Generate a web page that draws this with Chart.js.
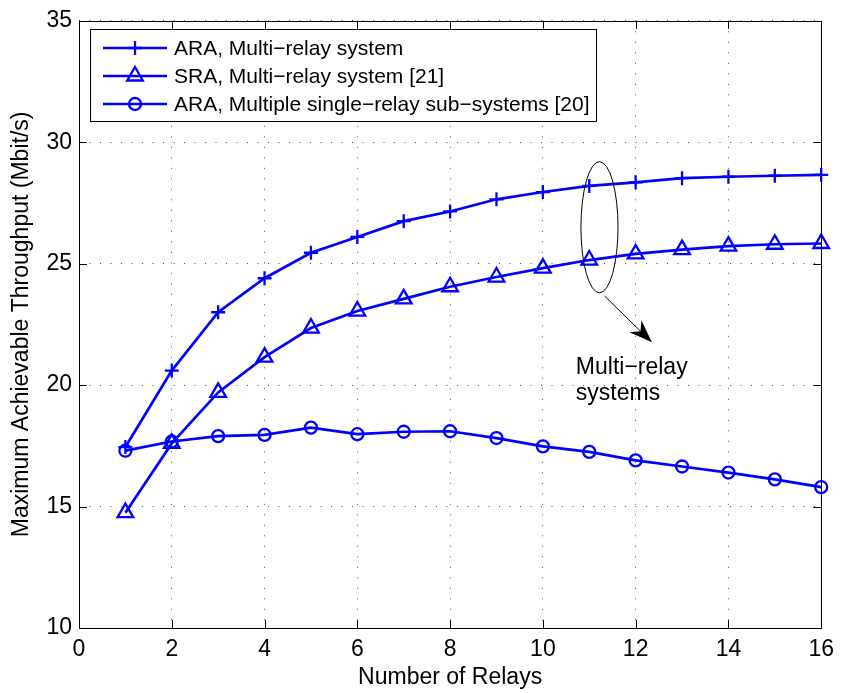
<!DOCTYPE html>
<html>
<head>
<meta charset="utf-8">
<script src="https://cdn.jsdelivr.net/npm/chart.js@4.4.0/dist/chart.umd.min.js"></script>
<style>
  body { margin: 0; background: #fff; }
</style>
</head>
<body>
<canvas id="vazao" width="842" height="693"></canvas>
<script>
// numero de relays no eixo x
const relays = [1, 2, 3, 4, 5, 6, 7, 8, 9, 10, 11, 12, 13, 14, 15, 16];

// vazao maxima (Mbit/s) de cada esquema
const araMulti = [17.45, 20.6, 23.0, 24.4, 25.45, 26.1, 26.75, 27.15, 27.65, 27.95, 28.2, 28.35, 28.52, 28.58, 28.62, 28.66];
const sraMulti = [14.75, 17.6, 19.7, 21.15, 22.35, 23.05, 23.55, 24.05, 24.45, 24.82, 25.15, 25.4, 25.58, 25.72, 25.8, 25.83];
const araSingle = [17.3, 17.68, 17.9, 17.95, 18.25, 17.98, 18.08, 18.1, 17.82, 17.48, 17.25, 16.9, 16.65, 16.4, 16.12, 15.8];

const xTicks = [0, 2, 4, 6, 8, 10, 12, 14, 16];
const yTicks = [10, 15, 20, 25, 30, 35];

const fonte = '"Liberation Sans", Arial, Helvetica, sans-serif';
const azul = 'rgb(0,0,255)';

// elipse + seta + texto da anotacao (em coordenadas dos eixos)
const nota = {
  elipse: { x: 11.22, y: 26.5, rx: 0.4, ry: 2.7 },
  seta: { x0: 11.33, y0: 23.67, x1: 12.35, y1: 21.76 },
  texto: { x: 10.71, y: 20.46, y2: 19.38, linhas: ['Multi\u2212relay', 'systems'] }
};

function pontos(vals) {
  return relays.map((r, i) => ({ x: r, y: vals[i] }));
}

function serie(label, vals, estilo, raio) {
  return {
    label: label,
    data: pontos(vals),
    borderColor: azul,
    backgroundColor: 'rgba(0,0,0,0)',
    borderWidth: 2.7,
    pointStyle: estilo,
    pointRadius: raio,
    pointBorderWidth: 2.3,
    pointBorderColor: azul,
    pointBackgroundColor: 'rgba(0,0,0,0)',
    tension: 0,
    fill: false,
    clip: false
  };
}

// moldura com ticks para dentro nos 4 lados
const moldura = {
  id: 'moldura',
  beforeDatasetsDraw(chart) {
    const { ctx, chartArea: a, scales } = chart;
    ctx.save();
    ctx.strokeStyle = '#000';
    ctx.lineWidth = 1;
    ctx.beginPath();
    xTicks.forEach(v => {
      const px = Math.round(scales.x.getPixelForValue(v)) + 0.5;
      ctx.moveTo(px, a.bottom); ctx.lineTo(px, a.bottom - 8);
      ctx.moveTo(px, a.top); ctx.lineTo(px, a.top + 8);
    });
    yTicks.forEach(v => {
      const py = Math.round(scales.y.getPixelForValue(v)) + 0.5;
      ctx.moveTo(a.left, py); ctx.lineTo(a.left + 8, py);
      ctx.moveTo(a.right, py); ctx.lineTo(a.right - 8, py);
    });
    ctx.stroke();
    ctx.strokeRect(Math.round(a.left) + 0.5, Math.round(a.top) + 0.5,
      Math.round(a.right - a.left), Math.round(a.bottom - a.top));
    ctx.restore();
  }
};

function marcador(ctx, estilo, x, y, r) {
  ctx.beginPath();
  if (estilo === 'cross') {
    ctx.moveTo(x - r, y); ctx.lineTo(x + r, y);
    ctx.moveTo(x, y - r); ctx.lineTo(x, y + r);
  } else if (estilo === 'triangle') {
    ctx.moveTo(x, y - r);
    ctx.lineTo(x + r * Math.cos(Math.PI / 6), y + r / 2);
    ctx.lineTo(x - r * Math.cos(Math.PI / 6), y + r / 2);
    ctx.closePath();
  } else {
    ctx.arc(x, y, r, 0, Math.PI * 2);
  }
  ctx.stroke();
}

// legenda no canto superior esquerdo + anotacao
const extras = {
  id: 'extras',
  afterDatasetsDraw(chart) {
    const { ctx, scales } = chart;
    const sx = scales.x, sy = scales.y;
    ctx.save();

    // legenda
    const bx = 90.5, by = 29.5, bw = 506, bh = 92;
    ctx.fillStyle = '#fff';
    ctx.fillRect(bx, by, bw, bh);
    ctx.strokeStyle = '#000';
    ctx.lineWidth = 1;
    ctx.strokeRect(bx, by, bw, bh);
    ctx.font = '21px ' + fonte;
    ctx.textBaseline = 'middle';
    ctx.textAlign = 'left';
    chart.data.datasets.forEach((ds, i) => {
      const ly = 48 + i * 28;
      ctx.strokeStyle = ds.borderColor;
      ctx.lineWidth = ds.borderWidth;
      ctx.beginPath();
      ctx.moveTo(103, ly); ctx.lineTo(167, ly);
      ctx.stroke();
      ctx.lineWidth = ds.pointBorderWidth;
      marcador(ctx, ds.pointStyle, 135, ly, ds.pointRadius);
      ctx.fillStyle = '#000';
      ctx.fillText(ds.label, 174, ly + 1);
    });

    // elipse
    const e = nota.elipse;
    const ex = sx.getPixelForValue(e.x), ey = sy.getPixelForValue(e.y);
    const erx = Math.abs(sx.getPixelForValue(e.x + e.rx) - ex);
    const ery = Math.abs(sy.getPixelForValue(e.y + e.ry) - ey);
    ctx.strokeStyle = '#000';
    ctx.lineWidth = 1;
    ctx.beginPath();
    ctx.ellipse(ex, ey, erx, ery, 0, 0, Math.PI * 2);
    ctx.stroke();

    // seta
    const s = nota.seta;
    const x0 = sx.getPixelForValue(s.x0), y0 = sy.getPixelForValue(s.y0);
    const x1 = sx.getPixelForValue(s.x1), y1 = sy.getPixelForValue(s.y1);
    const len = Math.hypot(x1 - x0, y1 - y0);
    const ux = (x1 - x0) / len, uy = (y1 - y0) / len;
    const nx = -uy, ny = ux;
    const hl = 23, hw = 8.5, nb = 16;
    ctx.beginPath();
    ctx.moveTo(x0, y0);
    ctx.lineTo(x1 - ux * nb, y1 - uy * nb);
    ctx.stroke();
    ctx.fillStyle = '#000';
    ctx.beginPath();
    ctx.moveTo(x1, y1);
    ctx.lineTo(x1 - ux * hl + nx * hw, y1 - uy * hl + ny * hw);
    ctx.lineTo(x1 - ux * nb, y1 - uy * nb);
    ctx.lineTo(x1 - ux * hl - nx * hw, y1 - uy * hl - ny * hw);
    ctx.closePath();
    ctx.fill();

    // texto
    const t = nota.texto;
    ctx.font = '23px ' + fonte;
    ctx.textBaseline = 'alphabetic';
    ctx.fillText(t.linhas[0], sx.getPixelForValue(t.x), sy.getPixelForValue(t.y));
    ctx.fillText(t.linhas[1], sx.getPixelForValue(t.x), sy.getPixelForValue(t.y2));

    ctx.restore();
  }
};

const eixoFonte = { family: fonte, size: 23 };

new Chart(document.getElementById('vazao'), {
  type: 'line',
  data: {
    datasets: [
      serie('ARA, Multi\u2212relay system', araMulti, 'cross', 7),
      serie('SRA, Multi\u2212relay system [21]', sraMulti, 'triangle', 9),
      serie('ARA, Multiple single\u2212relay sub\u2212systems [20]', araSingle, 'circle', 6)
    ]
  },
  options: {
    responsive: false,
    animation: false,
    devicePixelRatio: 1,
    layout: { padding: { top: 16, right: 17, left: 0, bottom: 0 } },
    plugins: {
      legend: { display: false },
      tooltip: { enabled: false }
    },
    scales: {
      x: {
        type: 'linear',
        min: 0,
        max: 16,
        afterBuildTicks: s => { s.ticks = xTicks.map(v => ({ value: v })); },
        afterFit: s => { s.height = 65; },
        grid: { color: '#555', lineWidth: 1, drawTicks: false },
        border: { display: false, dash: [1, 9.5] },
        ticks: { color: '#000', font: eixoFonte, padding: 8, maxRotation: 0 },
        title: {
          display: true,
          text: 'Number of Relays',
          color: '#000',
          font: eixoFonte,
          padding: { top: 0, bottom: 2 }
        }
      },
      y: {
        min: 10,
        max: 35,
        afterBuildTicks: s => { s.ticks = yTicks.map(v => ({ value: v })); },
        afterFit: s => { s.width = 79; },
        grid: { color: '#555', lineWidth: 1, drawTicks: false },
        border: { display: false, dash: [1, 9.5] },
        ticks: { color: '#000', font: eixoFonte, padding: 7 },
        title: {
          display: true,
          text: 'Maximum Achievable Throughput (Mbit/s)',
          color: '#000',
          font: eixoFonte,
          padding: { top: 8, bottom: 0 }
        }
      }
    }
  },
  plugins: [moldura, extras]
});
</script>
</body>
</html>
